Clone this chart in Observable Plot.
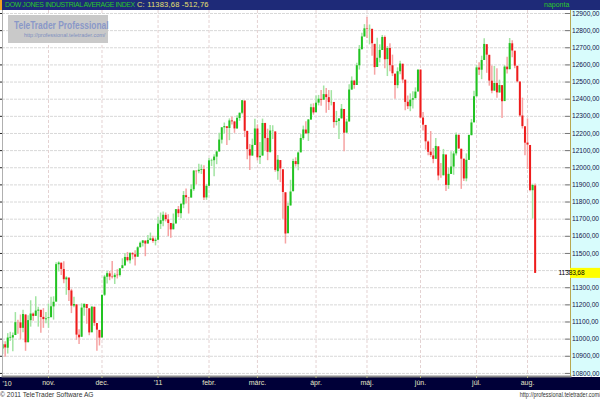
<!DOCTYPE html>
<html><head><meta charset="utf-8">
<script src="https://cdn.jsdelivr.net/npm/d3@7"></script>
<script src="https://cdn.jsdelivr.net/npm/@observablehq/plot@0.6"></script>
<style>
html,body{margin:0;padding:0;background:#fff;}
#wrap{position:relative;width:600px;height:400px;overflow:hidden;font-family:"Liberation Sans",Arial,sans-serif;}
#hdr{position:absolute;left:0;top:0;width:600px;height:10px;background:#1e2a78;line-height:10px;white-space:nowrap;}
#strip{position:absolute;left:0;top:0;width:2px;height:10px;background:#f0a020;}
#t1{position:absolute;left:5px;top:0;color:#2ac82a;font-size:6.9px;letter-spacing:-0.35px;}
#t2{position:absolute;left:137px;top:0;color:#e8e070;font-size:7.5px;letter-spacing:0.2px;}
#t3{position:absolute;left:544px;top:0;color:#2ac82a;font-size:7px;}
#chart{position:absolute;left:0;top:10px;}
#wm{position:absolute;left:8px;top:15px;width:100px;height:28px;background:#c9c9c9;}
#wm1{position:absolute;left:6px;top:4px;font-size:10.5px;font-weight:bold;color:#8a98c8;white-space:nowrap;transform:scaleX(0.8);transform-origin:left top;}
#wm2{position:absolute;left:16px;top:17px;font-size:5.5px;color:#8090c0;white-space:nowrap;}
#foot{position:absolute;left:0;top:390px;width:600px;height:10px;font-size:7px;line-height:10px;color:#333;}
#f1{position:absolute;left:0;top:0;transform:scaleX(0.95);transform-origin:left top;white-space:nowrap;}
#f2{position:absolute;right:0;top:0;transform:scaleX(0.78);transform-origin:right top;white-space:nowrap;}
</style></head><body>
<div id="wrap">
 <div id="hdr"><span id="strip"></span><span id="t1">DOW JONES INDUSTRIAL AVERAGE INDEX</span><span id="t2"></span><span id="t3">naponta</span></div>
 <div id="chart"></div>
 <div id="wm"><span id="wm1">TeleTrader Professional</span><span id="wm2">http://professional.teletrader.com/</span></div>
 <div id="foot"><span id="f1">© 2011 TeleTrader Software AG</span><span id="f2">http://professional.teletrader.com/</span></div>
</div>
<script>
// Trading days per month
const monthKeys = ["2010-10","2010-11","2010-12","2011-01","2011-02","2011-03","2011-04","2011-05","2011-06","2011-07","2011-08"];
const monthDays = [
 [1,4,5,6,7,8,11,12,13,14,15,18,19,20,21,22,25,26,27,28,29],
 [1,2,3,4,5,8,9,10,11,12,15,16,17,18,19,22,23,24,26,29,30],
 [1,2,3,6,7,8,9,10,13,14,15,16,17,20,21,22,23,27,28,29,30,31],
 [3,4,5,6,7,10,11,12,13,14,18,19,20,21,24,25,26,27,28,31],
 [1,2,3,4,7,8,9,10,11,14,15,16,17,18,22,23,24,25,28],
 [1,2,3,4,7,8,9,10,11,14,15,16,17,18,21,22,23,24,25,28,29,30,31],
 [1,4,5,6,7,8,11,12,13,14,15,18,19,20,21,25,26,27,28,29],
 [2,3,4,5,6,9,10,11,12,13,16,17,18,19,20,23,24,25,26,27,31],
 [1,2,3,6,7,8,9,10,13,14,15,16,17,20,21,22,23,24,27,28,29,30],
 [1,5,6,7,8,11,12,13,14,15,18,19,20,21,22,25,26,27,28,29],
 [1,2,3,4]
];
const monthLabels = ["'10","nov.","dec.","'11","febr.","márc.","ápr.","máj.","jún.","júl.","aug."];

const open = [
 10789,10828,10752,10942,10967,10947,11006,11007,11021,11095,11095,11063,11141,10979,11108,11146,11133,11163,11168,11127,11113,
 11120,11125,11188,11216,11434,11443,11406,11346,11356,11281,11193,11200,11023,11011,11182,11202,11177,11037,11186,11091,11051,
 11007,11256,11361,11381,11362,11359,11373,11371,11411,11428,11476,11457,11499,11492,11478,11533,11559,11572,11555,11575,11585,11570,
 11577,11670,11688,11722,11696,11675,11638,11672,11755,11732,11783,11837,11824,11823,11872,11980,11977,11985,11989,11824,
 11892,12040,12041,12062,12092,12161,12233,12239,12229,12273,12267,12226,12287,12318,12389,12212,12105,12068,12130,
 12226,12058,12068,12258,12171,12090,12212,12209,11977,12042,11988,11854,11615,11777,11860,12036,12018,12087,12170,12220,12198,12278,12350,
 12321,12377,12399,12394,12426,12409,12380,12381,12264,12270,12285,12340,12202,12267,12453,12505,12480,12595,12690,12763,
 12810,12806,12807,12720,12585,12639,12684,12760,12631,12696,12595,12546,12479,12560,12604,12511,12382,12356,12394,12403,12442,
 12570,12290,12247,12150,12091,12069,12049,12122,11953,11953,12074,11896,11961,12004,12081,12189,12108,12050,11935,12043,12187,12262,
 12414,12582,12569,12626,12718,12656,12505,12447,12492,12436,12479,12386,12587,12572,12723,12680,12592,12500,12302,12239,
 12144,12130,11866,11894
];
const high = [
 10908,10838,10959,10989,10985,11032,11040,11036,11155,11110,11141,11168,11141,11136,11224,11152,11247,11186,11168,11178,11156,
 11205,11245,11247,11445,11451,11444,11451,11364,11356,11291,11245,11200,11055,11206,11204,11202,11177,11187,11186,11091,11051,
 11256,11372,11394,11395,11453,11384,11405,11411,11469,11499,11506,11505,11505,11515,11539,11567,11574,11573,11605,11619,11601,11590,
 11711,11736,11742,11736,11726,11675,11730,11756,11774,11788,11861,11876,11827,11899,11984,11980,12020,12016,12011,11903,
 12054,12050,12076,12097,12201,12234,12261,12239,12285,12296,12271,12303,12319,12391,12389,12213,12135,12167,12283,
 12250,12148,12284,12259,12225,12247,12245,12209,12071,12042,11988,11854,11793,11927,12050,12058,12092,12193,12243,12269,12280,12370,12373,
 12419,12422,12450,12477,12462,12451,12450,12381,12329,12285,12369,12340,12283,12485,12530,12510,12610,12713,12785,12835,
 12876,12833,12810,12720,12755,12717,12772,12769,12707,12723,12657,12546,12583,12622,12604,12511,12419,12431,12444,12466,12570,
 12570,12322,12247,12156,12211,12112,12171,12122,12025,12107,12074,11999,12093,12094,12203,12191,12108,12050,12081,12189,12282,12447,
 12596,12613,12651,12753,12718,12656,12593,12591,12577,12511,12479,12596,12645,12754,12741,12680,12592,12500,12406,12239,
 12285,12130,11904,11905
];
const low = [
 10785,10714,10752,10911,10894,10913,10987,10926,11021,11028,10996,11037,10929,10979,11070,11104,11133,11070,11034,11063,11090,
 11063,11125,11111,11216,11392,11372,11323,11256,11220,11149,11183,10993,10969,11011,11134,11087,11020,11037,11075,10930,10960,
 11007,11249,11321,11341,11351,11319,11351,11363,11411,11424,11450,11439,11463,11427,11478,11533,11538,11481,11555,11575,11559,11544,
 11577,11640,11656,11684,11599,11588,11638,11672,11709,11703,11761,11788,11730,11823,11862,11900,11965,11961,11809,11810,
 11892,12007,11947,12018,12092,12138,12197,12130,12158,12250,12201,12226,12271,12309,12176,12047,11984,12068,12130,
 12040,12019,12068,12096,12041,12085,12165,11974,11927,11913,11700,11555,11615,11777,11860,12004,11982,12087,12160,12195,12153,12278,12307,
 12321,12361,12359,12394,12318,12334,12361,12231,12244,12165,12285,12093,12202,12267,12453,12458,12480,12570,12684,12762,
 12754,12717,12651,12540,12585,12612,12684,12577,12532,12560,12532,12399,12461,12543,12491,12332,12340,12327,12343,12403,12442,
 12285,12214,12103,12070,12060,12023,12049,11924,11939,11953,11862,11874,11961,11956,12068,12108,11874,11920,11918,12043,12187,12262,
 12414,12538,12514,12626,12551,12476,12432,12447,12405,12436,12288,12386,12547,12572,12642,12578,12495,12294,12226,12070,
 11990,11860,11700,11383
];
const close = [
 10829.68,10751.27,10944.72,10967.65,10948.58,11006.48,11010.34,11020.40,11096.08,11094.57,11062.78,11143.69,10978.62,11107.97,11146.57,11132.56,11164.05,11169.46,11126.28,11113.95,11118.49,
 11124.62,11188.72,11215.13,11434.84,11444.08,11406.84,11346.75,11357.04,11283.10,11192.58,11201.97,11023.50,11007.88,11181.23,11203.55,11178.58,11036.37,11187.28,11092.00,11052.49,11006.02,
 11255.78,11362.41,11382.09,11362.19,11359.16,11372.48,11370.06,11410.32,11428.56,11476.54,11457.47,11499.25,11491.91,11478.13,11533.16,11559.49,11573.49,11555.03,11575.54,11585.38,11569.71,11577.51,
 11670.75,11691.18,11722.89,11697.31,11674.76,11637.45,11671.88,11755.44,11731.90,11787.38,11837.93,11825.29,11822.80,11871.84,11980.52,11977.19,11985.44,11989.83,11823.70,11891.93,
 12040.16,12041.97,12062.26,12092.15,12161.63,12233.15,12239.89,12229.29,12273.26,12268.19,12226.64,12288.17,12318.14,12391.25,12212.79,12105.78,12068.50,12130.45,12226.34,
 12058.02,12066.80,12258.20,12169.88,12090.03,12214.38,12213.09,11984.61,12044.40,11993.16,11855.42,11613.30,11774.59,11858.52,12036.53,12018.63,12086.02,12170.56,12220.59,12197.88,12279.01,12350.61,12319.73,
 12376.72,12400.03,12393.90,12426.75,12409.49,12380.05,12381.11,12263.58,12270.99,12285.15,12341.83,12201.59,12266.75,12453.54,12505.99,12479.88,12595.37,12690.96,12763.31,12810.54,
 12807.36,12807.51,12723.58,12584.17,12638.74,12684.68,12760.36,12630.03,12695.92,12595.75,12548.37,12479.58,12560.18,12605.32,12512.04,12381.26,12356.21,12394.66,12402.76,12441.58,12569.79,
 12290.14,12248.55,12151.26,12089.96,12070.81,12048.94,12124.36,11951.91,11952.97,12076.11,11897.27,11961.52,12004.36,12080.38,12190.01,12109.67,12050.00,11934.58,12043.56,12188.69,12261.42,12414.34,
 12582.77,12569.87,12626.02,12719.49,12657.20,12505.76,12446.88,12491.61,12437.12,12479.73,12385.16,12587.42,12571.91,12724.41,12681.16,12592.80,12501.30,12302.55,12240.11,12143.24,
 12132.49,11866.62,11896.44,11383.68
];
const yTicks = [10800,10900,11000,11100,11200,11300,11400,11500,11600,11700,11800,11900,12000,12100,12200,12300,12400,12500,12600,12700,12800,12900];

const dates = monthKeys.flatMap((m, k) => monthDays[k].map(d => m + "-" + String(d).padStart(2, "0")));
const data = dates.map((d, i) => ({i, date: d, open: open[i], high: high[i], low: low[i], close: close[i], up: close[i] >= open[i]}));
const monthIdx = monthKeys.map((m, k) => dates.indexOf(m + "-" + String(monthDays[k][0]).padStart(2, "0")));
const labelOf = new Map(monthIdx.map((ix, k) => [ix, monthLabels[k]]));

const fmt = v => v.toFixed(2).replace(".", ",");
const last = data[data.length - 1], prev = data[data.length - 2];
document.getElementById("t2").textContent = "C: " + fmt(last.close) + " " + fmt(last.close - prev.close);

const chart = Plot.plot({
  width: 600, height: 380,
  marginLeft: 2, marginRight: 30, marginTop: 0, marginBottom: 14,
  style: {fontFamily: "Liberation Sans, Arial, sans-serif", fontSize: "7px", background: "transparent", overflow: "visible"},
  x: {type: "linear", domain: [2.95, 225.87], label: null},
  y: {domain: [10782, 12917.5], label: null},
  color: {type: "identity"},
  marks: [
    Plot.gridY(yTicks, {stroke: "#d8d8d8", strokeOpacity: 1, strokeDasharray: "3,1"}),
    Plot.gridX(monthIdx.slice(1), {stroke: "#e4d2d2", strokeOpacity: 1, strokeDasharray: "3,2"}),
    Plot.ruleX(data, {x: "i", y1: "low", y2: "high", stroke: d => d.up ? "#a2e4a2" : "#f6a3a3", strokeWidth: 1.5, clip: true}),
    Plot.ruleX(data, {x: "i", y1: "open", y2: "close", stroke: d => d.up ? "#22c322" : "#ee1c1c", strokeWidth: 2, clip: true}),
    Plot.frame({anchor: "left", stroke: "#b0b0b0"}),
    Plot.tickY(yTicks, {y: d => d, stroke: "#222", insetRight: 566, dx: -2}),
    Plot.frame({anchor: "bottom", stroke: "#8a8a8a", strokeWidth: 2}),
    Plot.frame({anchor: "right", stroke: "#b8a850", strokeDasharray: "1,1"}),
    Plot.tickY(yTicks, {y: d => d, stroke: "#777", insetLeft: 563}),
    Plot.axisY(yTicks, {anchor: "right", label: null, tickSize: 0, tickPadding: 1.5, tickFormat: fmt, fill: "#14144a", fontSize: 6.6, letterSpacing: "-0.15px"}),
    Plot.axisX(monthIdx.slice(1), {anchor: "bottom", label: null, tickSize: 2, tickPadding: 2, tickFormat: d => labelOf.get(d), fill: "#e6e6c8", stroke: "#b8b880", fontSize: 7}),
    Plot.text([monthLabels[0]], {frameAnchor: "bottom-left", textAnchor: "start", dy: 9, fill: "#e6e6c8", fontSize: 7})
  ]
});

const svg = d3.select(chart);
svg.insert("rect", ":first-child").attr("x", 570).attr("y", 0).attr("width", 30).attr("height", 366).attr("fill", "#d8fcfc");
svg.insert("rect", ":first-child").attr("x", 0).attr("y", 367).attr("width", 600).attr("height", 13).attr("fill", "#000038");
const yy = chart.scale("y").apply(last.close);
svg.append("rect").attr("x", 570).attr("y", yy - 5).attr("width", 30).attr("height", 10).attr("fill", "#ffff00");
svg.append("text").attr("x", 571.5).attr("y", yy).attr("dy", "0.35em").attr("font-size", 6.6).attr("letter-spacing", "-0.15px").attr("fill", "#000").text(fmt(last.close));
document.getElementById("chart").appendChild(chart);
</script>
</body></html>
